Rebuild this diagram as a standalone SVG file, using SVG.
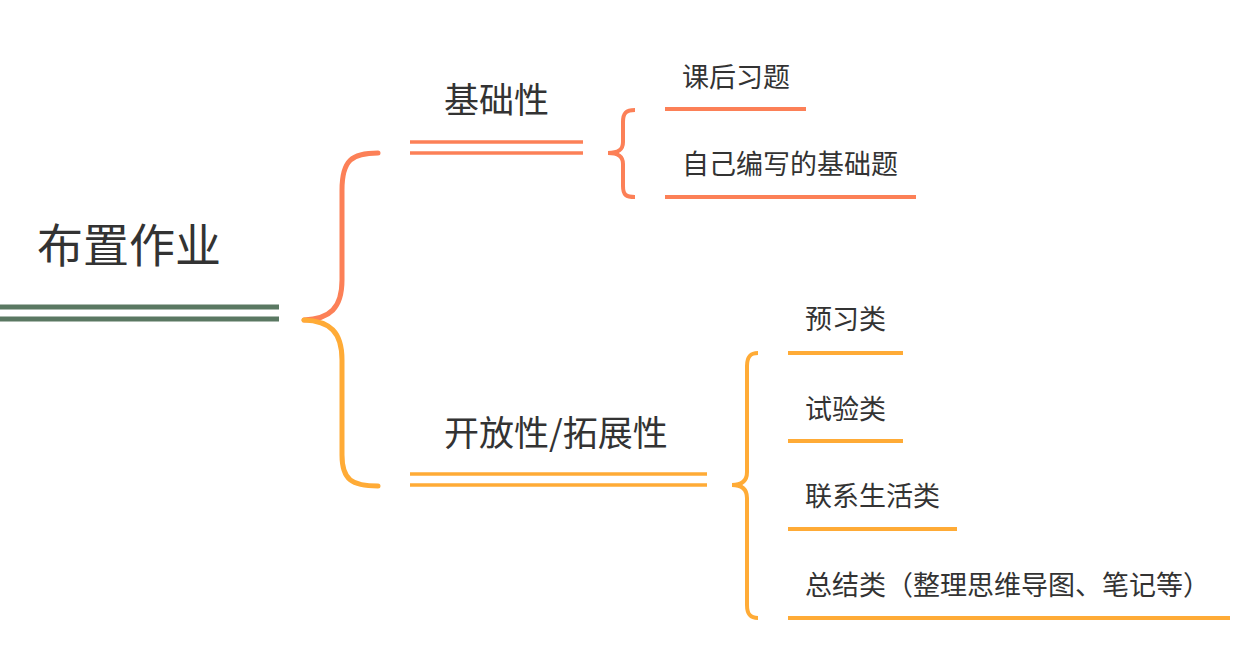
<svg xmlns="http://www.w3.org/2000/svg" width="1250" height="667" viewBox="0 0 1250 667">
<style>
text{font-family:"Noto Sans CJK SC","Noto Sans",sans-serif;fill:#333;}
.root{font-size:46px;}
.l1{font-size:35px;}
.l2{font-size:27px;}
.or{stroke:#fc8057;fill:none;stroke-linecap:round;}
.ye{stroke:#ffab36;fill:none;stroke-linecap:round;}
.gr{stroke:#5a7862;fill:none;}
.b{stroke-width:5;}
.d{stroke-width:3.5;stroke-linecap:butt;}
.c{stroke-width:4;stroke-linecap:butt;}
</style>
<rect width="1250" height="667" fill="#fff"/>
<g id="connectors">
  <path class="or b" d="M378,153 C352,153 342,160 342,190 L342,280 C342,308 330,319 304,320"/>
  <path class="ye b" d="M304,320 C330,321 342,332 342,360 L342,455 C342,480 352,486 378,486"/>
  <path class="or c" d="M635,110 C626,110 623,113 623,122 L623,142 C623,150 618,153 608,153 C618,153 623,156 623,164 L623,186 C623,195 626,197 635,197"/>
  <path class="ye c" d="M758,353 C750,353 747,357 747,366 L747,472 C747,481 742,485 732,485 C742,485 747,489 747,498 L747,605 C747,614 750,618 758,618"/>
</g>
<g id="root">
  <line class="gr" x1="0" y1="307" x2="279" y2="307" stroke-width="5"/>
  <line class="gr" x1="0" y1="319" x2="279" y2="319" stroke-width="5"/>
  <text class="root" x="37" y="262">布置作业</text>
</g>
<g id="n-basic">
  <line class="or d" x1="410" y1="142" x2="583" y2="142"/>
  <line class="or d" x1="410" y1="153" x2="583" y2="153"/>
  <text class="l1" x="444" y="113">基础性</text>
</g>
<g id="n-open">
  <line class="ye d" x1="410" y1="474" x2="707" y2="474"/>
  <line class="ye d" x1="410" y1="485" x2="707" y2="485"/>
  <text class="l1" x="444" y="446">开放性/拓展性</text>
</g>
<g id="n-kehou">
  <line class="or c" x1="665" y1="109" x2="806" y2="109"/>
  <text class="l2" x="682" y="87">课后习题</text>
</g>
<g id="n-ziji">
  <line class="or c" x1="665" y1="197" x2="916" y2="197"/>
  <text class="l2" x="682" y="174">自己编写的基础题</text>
</g>
<g id="n-yuxi">
  <line class="ye c" x1="788" y1="353" x2="903" y2="353"/>
  <text class="l2" x="805" y="329">预习类</text>
</g>
<g id="n-shiyan">
  <line class="ye c" x1="788" y1="441" x2="903" y2="441"/>
  <text class="l2" x="805" y="419">试验类</text>
</g>
<g id="n-shenghuo">
  <line class="ye c" x1="788" y1="529" x2="957" y2="529"/>
  <text class="l2" x="805" y="506">联系生活类</text>
</g>
<g id="n-zongjie">
  <line class="ye c" x1="788" y1="618" x2="1230" y2="618"/>
  <text class="l2" x="805" y="595">总结类（整理思维导图、笔记等）</text>
</g>
</svg>
